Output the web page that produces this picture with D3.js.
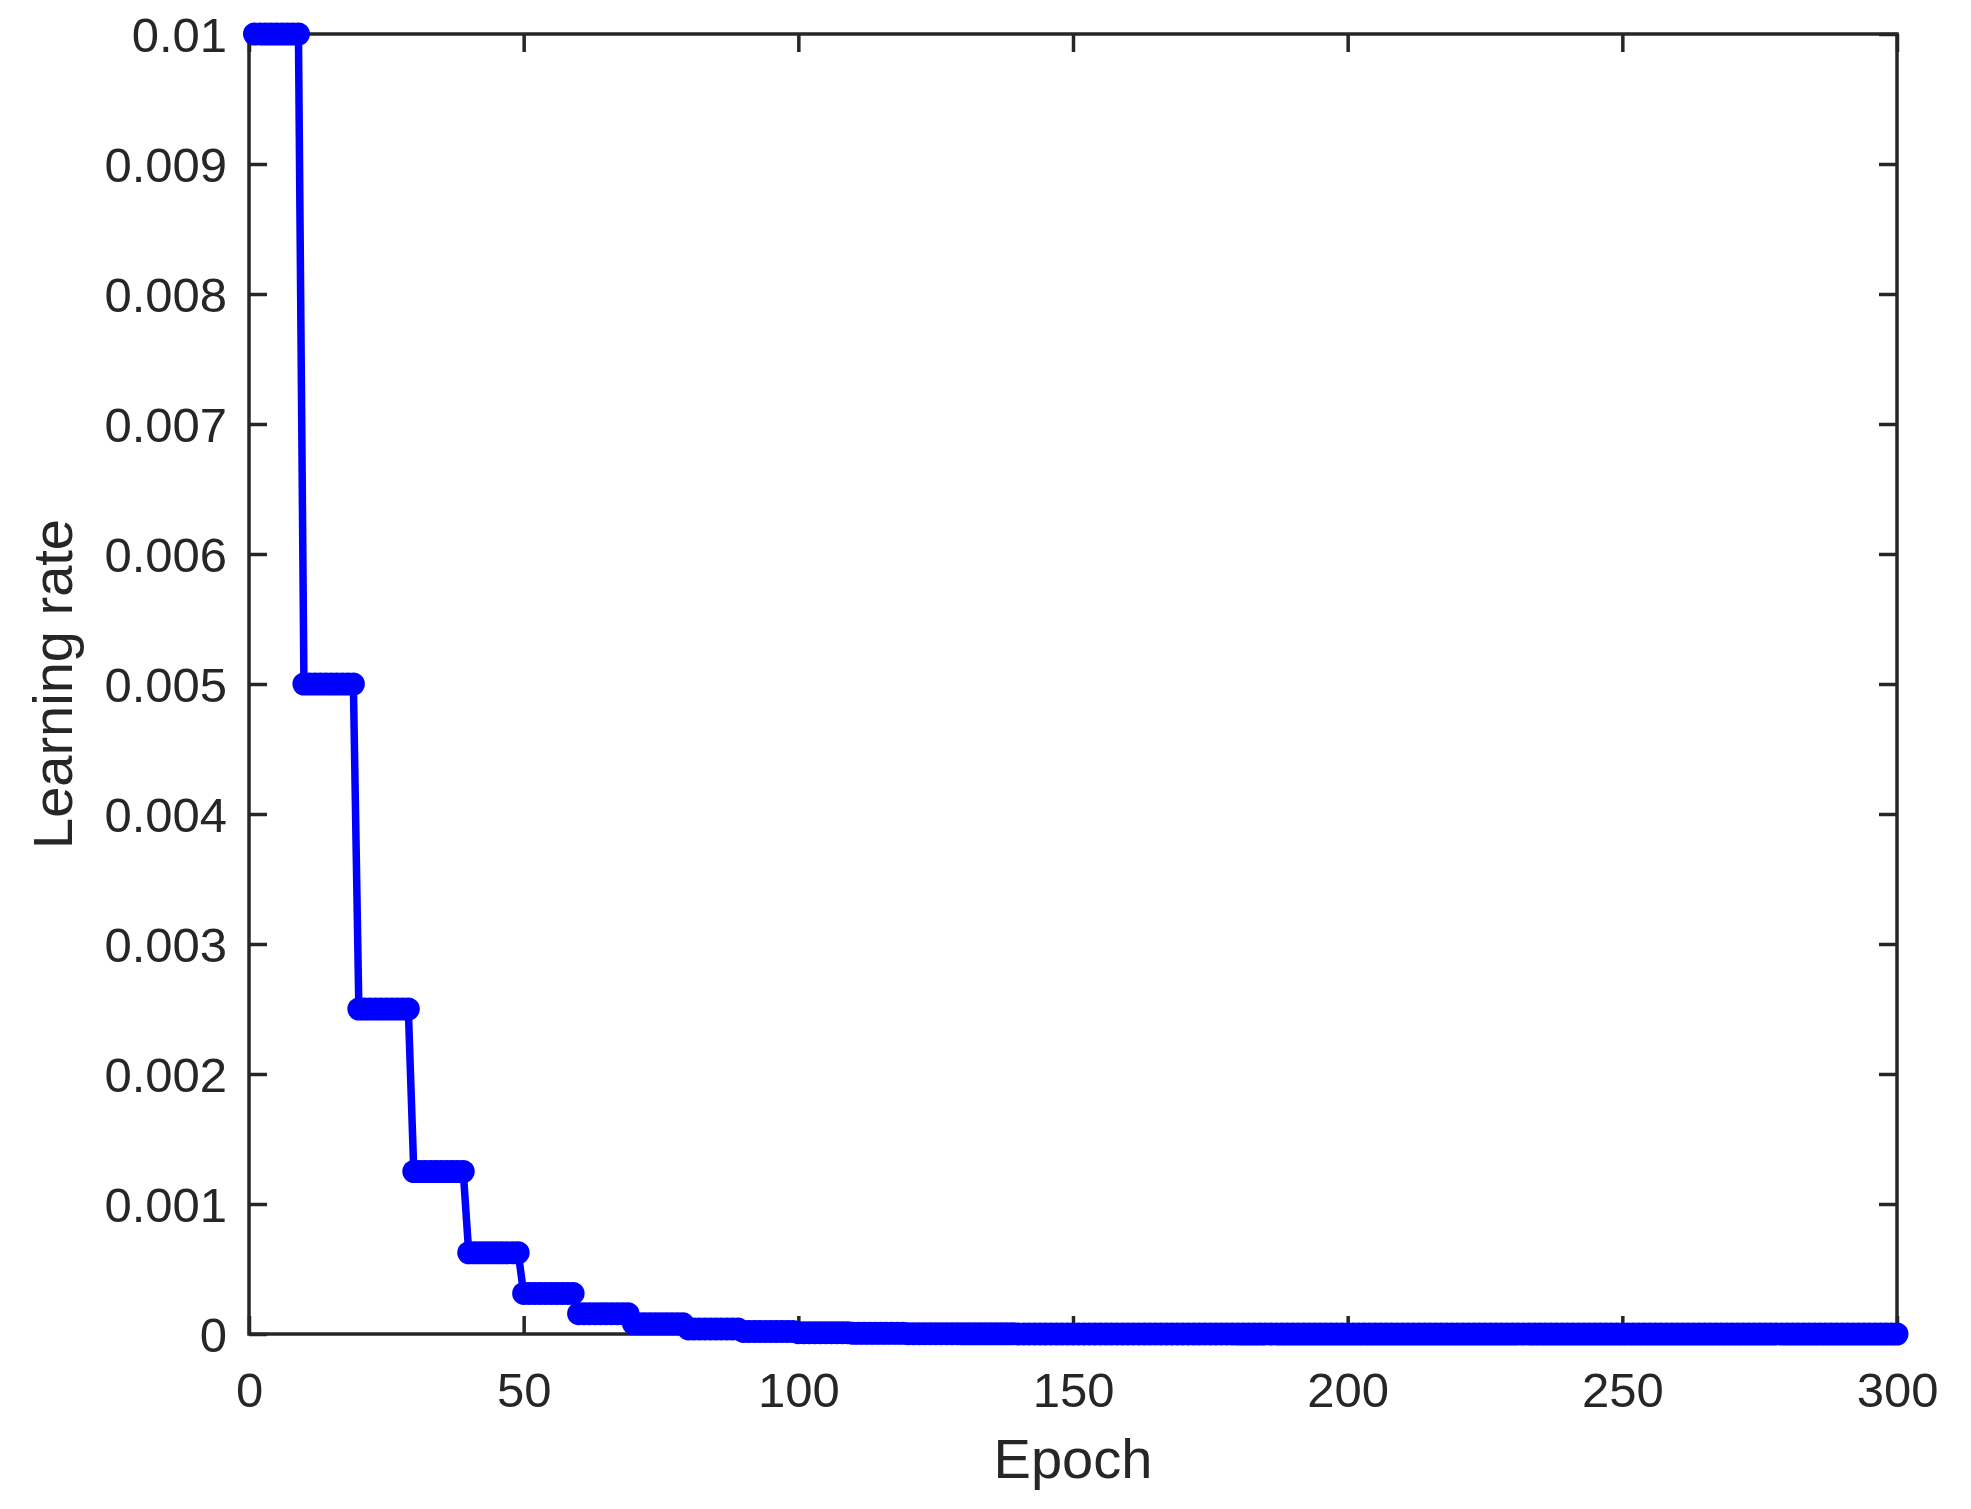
<!DOCTYPE html>
<html>
<head>
<meta charset="utf-8">
<script src="https://cdn.jsdelivr.net/npm/d3@7"></script>
<style>
  body { margin: 0; background: #fff; }
  text { font-family: "Liberation Sans", Arial, sans-serif; fill: #262626; }
</style>
</head>
<body>
<svg id="chart" width="1971" height="1509"></svg>
<script>
const width = 1971;
const height = 1509;
const margin = {top: 34, right: 74, bottom: 175, left: 249};

// learning rate levels and the epoch where each one starts (step schedule)
const lrLevels = [
  0.01, 0.005, 0.0025, 0.00125, 0.000625, 0.0003125, 0.00015625, 7.8125e-5,
  3.90625e-5, 1.953125e-5, 9.765625e-6, 4.8828125e-6, 2.44140625e-6, 1.220703125e-6,
  6.103515625e-7, 3.0517578125e-7, 1.52587890625e-7, 7.62939453125e-8, 3.814697265625e-8,
  1.9073486328125e-8, 9.5367431640625e-9, 4.76837158203125e-9, 2.384185791015625e-9,
  1.1920928955078125e-9, 5.96e-10, 2.98e-10, 1.49e-10, 7.45e-11, 3.73e-11, 1.86e-11, 9.31e-12
];
const stepStarts = [
  1, 10, 20, 30, 40, 50, 60, 70, 80, 90, 100, 110, 120, 130, 140, 150,
  160, 170, 180, 190, 200, 210, 220, 230, 240, 250, 260, 270, 280, 290, 300
];
const lastEpoch = 300;

const xTicks = [0, 50, 100, 150, 200, 250, 300];
const yTicks = [0, 0.001, 0.002, 0.003, 0.004, 0.005, 0.006, 0.007, 0.008, 0.009, 0.01];

// one point per epoch, taken from the step table
const points = [];
stepStarts.forEach((start, i) => {
  const end = i + 1 < stepStarts.length ? stepStarts[i + 1] - 1 : lastEpoch;
  for (let e = start; e <= end; e++) points.push({epoch: e, lr: lrLevels[i]});
});

const svg = d3.select("#chart");
svg.append("rect").attr("width", width).attr("height", height).attr("fill", "#fff");

const innerW = width - margin.left - margin.right;
const innerH = height - margin.top - margin.bottom;

const x = d3.scaleLinear().domain([0, 300]).range([margin.left, margin.left + innerW]);
const y = d3.scaleLinear().domain([0, 0.01]).range([margin.top + innerH, margin.top]);

const fmtY = d => d === 0 ? "0" : d3.format(".3~f")(d);
const tickLen = 18;
const axisColor = "#262626";

function styleAxis(g) {
  g.select(".domain").remove();
  g.selectAll(".tick line").attr("stroke", axisColor).attr("stroke-width", 3.5);
  g.selectAll(".tick text").style("font-size", "49px").attr("fill", axisColor);
}

svg.append("g")
  .attr("transform", `translate(0,${y(0)})`)
  .call(d3.axisBottom(x).tickValues(xTicks).tickSizeInner(-tickLen).tickSizeOuter(0).tickPadding(38))
  .call(styleAxis);

svg.append("g")
  .attr("transform", `translate(${x(0)},0)`)
  .call(d3.axisLeft(y).tickValues(yTicks).tickFormat(fmtY).tickSizeInner(-tickLen).tickSizeOuter(0).tickPadding(22))
  .call(styleAxis)
  .call(g => g.selectAll(".tick text").attr("dy", "0.36em"));

svg.append("g")
  .attr("transform", `translate(0,${y(0.01)})`)
  .call(d3.axisTop(x).tickValues(xTicks).tickSizeInner(-tickLen).tickSizeOuter(0).tickFormat(""))
  .call(styleAxis);

svg.append("g")
  .attr("transform", `translate(${x(300)},0)`)
  .call(d3.axisRight(y).tickValues(yTicks).tickSizeInner(-tickLen).tickSizeOuter(0).tickFormat(""))
  .call(styleAxis);

svg.append("rect")
  .attr("x", x(0)).attr("y", y(0.01))
  .attr("width", x(300) - x(0)).attr("height", y(0) - y(0.01))
  .attr("fill", "none")
  .attr("stroke", axisColor)
  .attr("stroke-width", 3.5);

// data line and markers
const line = d3.line().x(d => x(d.epoch)).y(d => y(d.lr));

svg.append("path")
  .datum(points)
  .attr("d", line)
  .attr("fill", "none")
  .attr("stroke", "#0000ff")
  .attr("stroke-width", 7.5)
  .attr("stroke-linejoin", "round");

svg.append("g")
  .selectAll("circle")
  .data(points)
  .join("circle")
    .attr("cx", d => x(d.epoch))
    .attr("cy", d => y(d.lr))
    .attr("r", 11.5)
    .attr("fill", "#0000ff");

// axis titles
svg.append("text")
  .attr("x", (x(0) + x(300)) / 2)
  .attr("y", 1478)
  .attr("text-anchor", "middle")
  .style("font-size", "56px")
  .text("Epoch");

svg.append("text")
  .attr("transform", `translate(72,${(y(0) + y(0.01)) / 2}) rotate(-90)`)
  .attr("text-anchor", "middle")
  .style("font-size", "56px")
  .text("Learning rate");
</script>
</body>
</html>
